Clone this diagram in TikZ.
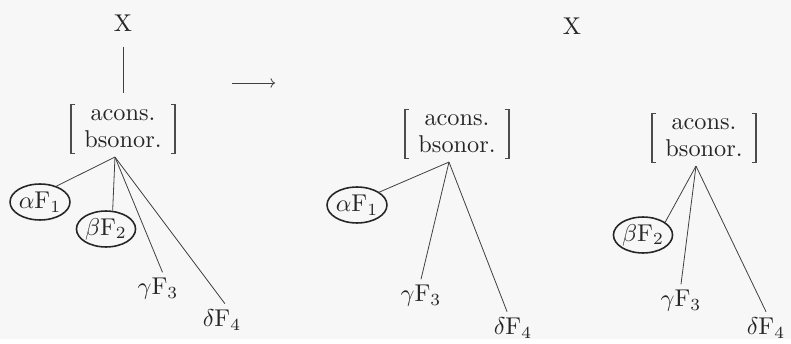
\documentclass[tikz,border=0pt]{standalone}
\usepackage{amsmath}
\usetikzlibrary{shapes.geometric, arrows.meta, positioning}

\begin{document}
\begin{tikzpicture}[
  x=0.01447cm, y=-0.01447cm,
  every node/.style={text=black!85},
  bundle/.style={align=center, inner sep=0pt, minimum width=42.4pt, minimum height=19.7pt, font={\fontsize{10}{11.1}\selectfont}},
  bracket/.style={draw=black!70, line width=0.45pt},
  ring/.style={ellipse, draw=black!85, line width=0.65pt, minimum width=23.7pt, minimum height=14.8pt, inner sep=0pt},
  leaf/.style={inner sep=2.3pt},
  branch/.style={draw=black!75, line width=0.33pt},
  >={To[scale=0.8]},
]
  % ── Frame ──────────────────────────────────
  \fill[black!3] (0,0) rectangle (791,339);

  % ── Left tree ──────────────────────────────
  \node[bundle] (br1) at (123,129) {acons.\\bsonor.};
  \node[above=0.94cm of br1] (x1) {X};
  \coordinate (j1) at ([xshift=-3.3pt, yshift=-1.5pt]br1.south);
  \node[ring] (a1) at (40,202) {$\alpha\mathrm{F}_1$};
  \node[ring] (b1) at (106,229) {$\beta\mathrm{F}_2$};
  \node[leaf] (g1) at (158,289) {$\gamma\mathrm{F}_3$};
  \node[leaf] (d1) at (222,320) {$\delta\mathrm{F}_4$};

  \draw[branch, shorten <=2.9pt, shorten >=4.9pt] (x1) -- (br1);
  \draw[branch] (j1) -- (a1.44);
  \draw[branch] (j1) -- (b1.70);
  \draw[branch] (j1) -- (g1.75);
  \draw[branch] (j1) -- (d1.80);

  % ── Arrow ──────────────────────────────────
  \coordinate (arr s) at (232,83);
  \coordinate (arr e) at (275,83);
  \draw[branch, ->] (arr s) -- (arr e);

  % ── Middle tree ────────────────────────────
  \node[bundle] (br2) at (457,134) {acons.\\bsonor.};
  \coordinate (j2) at ([xshift=-3.3pt, yshift=-1.5pt]br2.south);
  \node[ring] (a2) at (357,205) {$\alpha\mathrm{F}_1$};
  \node[leaf] (g2) at (421,296) {$\gamma\mathrm{F}_3$};
  \node[leaf] (d2) at (513,328) {$\delta\mathrm{F}_4$};

  \draw[branch] (j2) -- (a2.30);
  \draw[branch] (j2) -- (g2.90);
  \draw[branch] (j2) -- (d2.110);

  % ── Right tree ─────────────────────────────
  \node (x2) at (572,26) {X};
  \node[bundle] (br3) at (704,138) {acons.\\bsonor.};
  \coordinate (j3) at ([xshift=-3.3pt, yshift=-1.5pt]br3.south);
  \node[ring] (b3) at (643,235) {$\beta\mathrm{F}_2$};
  \node[leaf] (g3) at (681,301) {$\gamma\mathrm{F}_3$};
  \node[leaf] (d3) at (766,328) {$\delta\mathrm{F}_4$};

  \draw[branch] (j3) -- (b3.30);
  \draw[branch] (j3) -- (g3.90);
  \draw[branch] (j3) -- (d3.90);

  % ── Brackets ───────────────────────────────
  \foreach \b in {br1, br2, br3} {
    \draw[bracket] ([xshift=1.8pt]\b.north west) -| (\b.south west) -- ++(1.8pt,0);
    \draw[bracket] ([xshift=-1.8pt]\b.north east) -| (\b.south east) -- ++(-1.8pt,0);
  }

\end{tikzpicture}
\end{document}
